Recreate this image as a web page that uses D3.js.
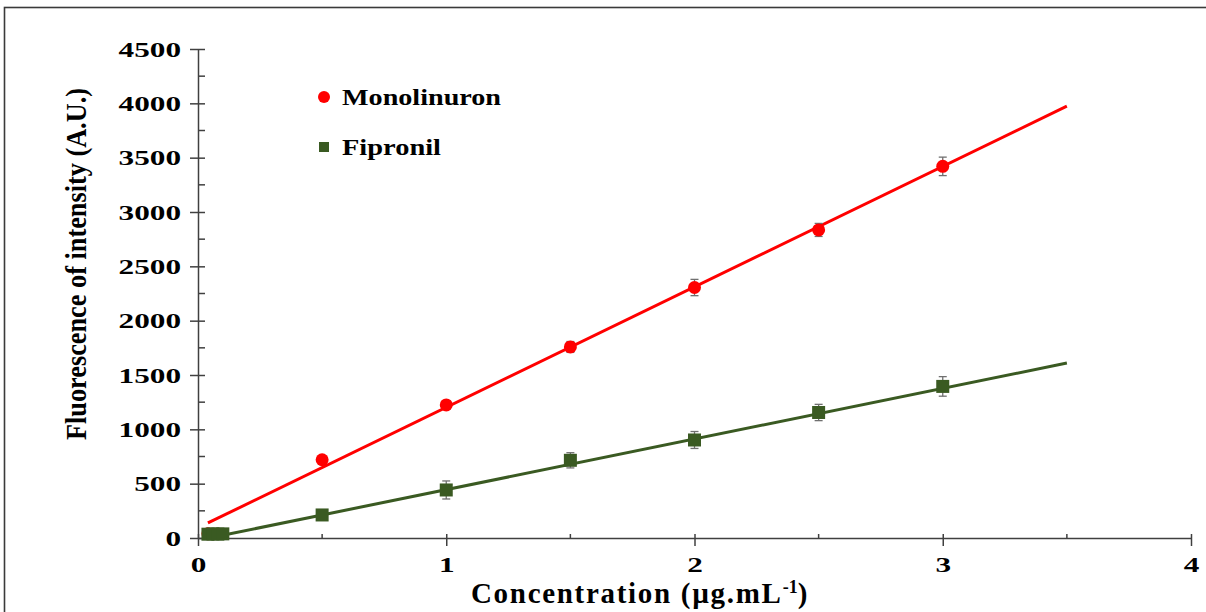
<!DOCTYPE html>
<html>
<head>
<meta charset="utf-8">
<title>Fluorescence calibration</title>
<script src="https://d3js.org/d3.v7.min.js"></script>
<style>
    body{ margin:0; background:#ffffff; }
    text{ font-family: "Liberation Serif", "Times New Roman", serif; font-weight: 700; fill:#000; }
    .tick text{ font-size: 22px; }
    .axis path.domain{ stroke:#404040; stroke-width:1.5; }
    .axis .tick line{ stroke:#404040; stroke-width:1.5; }
    .minor line{ stroke:#404040; stroke-width:1.5; }
    .legend text{ font-size: 24px; }
</style>
</head>
<body>
<script>
    // values
    var monoX = [0.04, 0.5, 1, 1.5, 2, 2.5, 3];
    var monoY = [40, 720, 1225, 1758, 2305, 2835, 3420];
    var monoErr = [10, 20, 35, 50, 75, 60, 85];

    var fipX = [0.04, 0.06, 0.08, 0.1, 0.5, 1, 1.5, 2, 2.5, 3];
    var fipY = [35, 38, 36, 38, 212, 442, 715, 902, 1155, 1395];
    var fipErr = [8, 8, 8, 8, 30, 83, 70, 78, 75, 90];

    // linear trend lines (slope, intercept) and their x extent
    var monoFit = [1108.7, 94];
    var fipFit = [466, -21];
    var fitRange = [0.04, 3.5];

    var xTicks = [0, 1, 2, 3, 4];
    var xMinor = [0.5, 1.5, 2.5, 3.5];
    var yTicks = [0, 500, 1000, 1500, 2000, 2500, 3000, 3500, 4000, 4500];
    var yMinor = [250, 750, 1250, 1750, 2250, 2750, 3250, 3750, 4250];

    var width = 1206, height = 612;
    var margin = {top: 49, right: 15, bottom: 74, left: 198};

    var svg = d3.select("body").append("svg")
        .attr("width", width)
        .attr("height", height);

    // outer frame
    svg.append("rect")
        .attr("x", 4.5).attr("y", 7.5)
        .attr("width", width + 10).attr("height", height + 10)
        .attr("fill", "none")
        .attr("stroke", "#3a3a3a")
        .attr("stroke-width", 1.6);

    var x = d3.scaleLinear().domain([0, 4]).range([margin.left, 1191]);
    var y = d3.scaleLinear().domain([0, 4500]).range([height - margin.bottom, margin.top]);

    // minor ticks (inside only)
    svg.append("g").attr("class", "minor")
        .selectAll("line").data(yMinor).enter().append("line")
        .attr("x1", x(0)).attr("x2", x(0) + 7)
        .attr("y1", d => y(d)).attr("y2", d => y(d));
    svg.append("g").attr("class", "minor")
        .selectAll("line").data(xMinor).enter().append("line")
        .attr("x1", d => x(d)).attr("x2", d => x(d))
        .attr("y1", y(0)).attr("y2", y(0) - 4);

    // axes
    var yAxis = d3.axisLeft(y).tickValues(yTicks).tickFormat(d3.format("d"))
        .tickSizeInner(8).tickSizeOuter(0).tickPadding(9);
    var gy = svg.append("g").attr("class", "axis")
        .attr("transform", "translate(" + x(0) + ",0)")
        .call(yAxis);
    gy.selectAll(".tick line").attr("x1", 7);
    // labels in the source are drawn wide
    gy.selectAll(".tick text")
        .attr("x", 0)
        .attr("transform", "translate(-17,0) scale(1.42,1)");

    var xAxis = d3.axisBottom(x).tickValues(xTicks).tickFormat(d3.format("d"))
        .tickSizeInner(8).tickSizeOuter(0).tickPadding(10);
    var gx = svg.append("g").attr("class", "axis")
        .attr("transform", "translate(0," + y(0) + ")")
        .call(xAxis);
    gx.selectAll(".tick line").attr("y1", -4);
    gx.selectAll(".tick text").attr("transform", "scale(1.42,1)");

    // trend lines
    function fitLine(fit) {
        return fitRange.map(v => [v, fit[0] * v + fit[1]]);
    }
    var line = d3.line().x(d => x(d[0])).y(d => y(d[1]));

    svg.append("path").datum(fitLine(monoFit))
        .attr("d", line).attr("fill", "none")
        .attr("stroke", "#ff0000").attr("stroke-width", 3);
    svg.append("path").datum(fitLine(fipFit))
        .attr("d", line).attr("fill", "none")
        .attr("stroke", "#3a5a22").attr("stroke-width", 3);

    // error bars
    function errBars(xs, ys, es) {
        var g = svg.append("g").attr("stroke", "#707070").attr("stroke-width", 1.3);
        xs.forEach(function(v, i) {
            var cx = x(v), top = y(ys[i] + es[i]), bot = y(ys[i] - es[i]);
            g.append("line").attr("x1", cx).attr("x2", cx).attr("y1", top).attr("y2", bot);
            g.append("line").attr("x1", cx - 4).attr("x2", cx + 4).attr("y1", top).attr("y2", top);
            g.append("line").attr("x1", cx - 4).attr("x2", cx + 4).attr("y1", bot).attr("y2", bot);
        });
    }
    errBars(monoX, monoY, monoErr);
    errBars(fipX, fipY, fipErr);

    // markers
    svg.append("g").selectAll("circle")
        .data(monoX.map((v, i) => [v, monoY[i]]))
        .enter().append("circle")
        .attr("cx", d => x(d[0])).attr("cy", d => y(d[1]))
        .attr("r", 6.5).attr("fill", "#ff0000");

    svg.append("g").selectAll("rect")
        .data(fipX.map((v, i) => [v, fipY[i]]))
        .enter().append("rect")
        .attr("x", d => x(d[0]) - 6.5).attr("y", d => y(d[1]) - 6.5)
        .attr("width", 13).attr("height", 13)
        .attr("fill", "#3a5a22");

    // legend
    var legend = svg.append("g").attr("class", "legend");
    legend.append("circle").attr("cx", 324).attr("cy", 97).attr("r", 6).attr("fill", "#ff0000");
    legend.append("text").attr("x", 342).attr("y", 105)
        .attr("textLength", 159).attr("lengthAdjust", "spacingAndGlyphs")
        .text("Monolinuron");
    legend.append("rect").attr("x", 319).attr("y", 142).attr("width", 10).attr("height", 10).attr("fill", "#3a5a22");
    legend.append("text").attr("x", 342).attr("y", 155)
        .attr("textLength", 99).attr("lengthAdjust", "spacingAndGlyphs")
        .text("Fipronil");

    // axis titles
    var xt = svg.append("text")
        .attr("x", 640).attr("y", 603)
        .attr("text-anchor", "middle")
        .style("font-size", "29px")
        .style("letter-spacing", "1.7px");
    xt.append("tspan").text("Concentration (\u00b5g.mL");
    xt.append("tspan").attr("dy", -10).style("font-size", "18px").style("letter-spacing", "0px").text("-1");
    xt.append("tspan").attr("dy", 10).text(")");

    svg.append("text")
        .attr("transform", "translate(86,264) rotate(-90)")
        .attr("text-anchor", "middle")
        .attr("textLength", 352)
        .attr("lengthAdjust", "spacingAndGlyphs")
        .style("font-size", "29px")
        .text("Fluorescence of intensity (A.U.)");
</script>
</body>
</html>
